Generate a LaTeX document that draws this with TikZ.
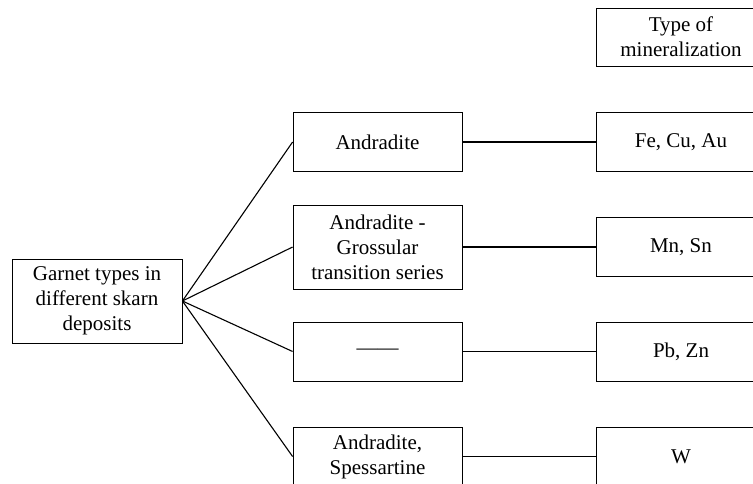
\documentclass[tikz,border=0pt]{standalone}
\usepackage{fontspec}
\setmainfont{Liberation Serif}
\usepackage{tikz}

\begin{document}
\begin{tikzpicture}[x=1pt,y=-1pt,
  box/.style={rectangle,draw,line width=0.8pt,align=center,inner sep=0pt,
    minimum width=170pt,minimum height=59pt,font=\fontsize{21}{25}\selectfont},
  tall/.style={box,minimum height=84pt}]
%\draw[help lines] (0,0) grid (753,484);
\useasboundingbox (0,0) rectangle (753,484);
\clip (0,0) rectangle (753,484);
\path (97,301) node(garnet) [tall] {Garnet types in\\different skarn\\deposits}
(377.5,142) node(andr) [box,minimum width=169pt] {Andradite}
(377.5,247) node(grossular) [tall,minimum width=169pt] {Andradite -\\Grossular\\transition series}
(377.5,351.5) node(none) [box,minimum width=169pt] {——}
(377.5,456.5) node(spess) [box,minimum width=169pt] {Andradite,\\Spessartine}
(681,37) node(type) [box,minimum height=58pt] {Type of\\mineralization}
(681,142) node(fecu) [box] {Fe, Cu, Au}
(681,247) node(mnsn) [box] {Mn, Sn}
(681,351.5) node(pbzn) [box] {Pb, Zn}
(681,456.5) node(w) [box] {W};

\draw[line width=1.1pt] (garnet.east) -- (andr.west);
\draw[line width=1.1pt] (garnet.east) -- (grossular.west);
\draw[line width=1.1pt] (garnet.east) -- (none.west);
\draw[line width=1.1pt] (garnet.east) -- (spess.west);
\draw[line width=1.1pt] (andr) -- (fecu);
\draw[line width=1.1pt] (grossular) -- (mnsn);
\draw[line width=1.1pt] (none) -- (pbzn);
\draw[line width=1.1pt] (spess) -- (w);
\end{tikzpicture}
\end{document}
